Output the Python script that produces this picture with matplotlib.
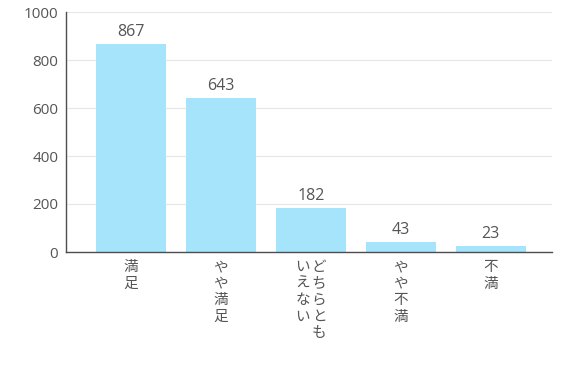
import matplotlib.pyplot as plt

categories = ['満足', 'やや満足', 'どちらとも\nいえない', 'やや不満', '不満']
values = [867, 643, 182, 43, 23]
yticks = [0, 200, 400, 600, 800, 1000]

bar_color = '#a6e4fb'
text_color = '#555555'
jp_font = ['Noto Sans CJK JP', 'DejaVu Sans']
num_font = ['Open Sans', 'DejaVu Sans']

fig = plt.figure(figsize=(5.86, 3.8), dpi=100)
ax = fig.add_axes([66 / 586, 1 - 252 / 380, 486 / 586, 240 / 380])

x = list(range(len(values)))
bars = ax.bar(x, values, width=0.78, color=bar_color, zorder=2)

ax.set_xlim(-0.72, 4.68)
ax.set_ylim(0, 1000)
ax.set_yticks(yticks)
ax.set_yticklabels([str(t) for t in yticks], family=num_font, fontsize=11, color=text_color)
ax.set_xticks([])
ax.tick_params(axis='y', length=0, pad=5.5)
ax.grid(axis='y', color='#e6e6e6', linewidth=0.8, zorder=0)
for s in ['top', 'right']:
    ax.spines[s].set_visible(False)
for s in ['left', 'bottom']:
    ax.spines[s].set_color('#4d4d4d')
    ax.spines[s].set_linewidth(1)

for xi, v in zip(x, values):
    ax.annotate(str(v), (xi, v), xytext=(0, 3), textcoords='offset points',
                ha='center', va='bottom', family=num_font, fontsize=11.5, color=text_color)

# vertical Japanese labels, columns read right to left
step = 11.8
for xi, label in zip(x, categories):
    cols = label.split('\n')
    n = len(cols)
    for ci, col in enumerate(cols):
        dx = ((n - 1) / 2 - ci) * step
        for ri, ch in enumerate(col):
            ax.annotate(ch, (xi, 0), xytext=(dx, -6 - ri * step), textcoords='offset points',
                        ha='center', va='top', family=jp_font, fontsize=10.5, color=text_color)

fig.savefig('out.png', dpi=100)
